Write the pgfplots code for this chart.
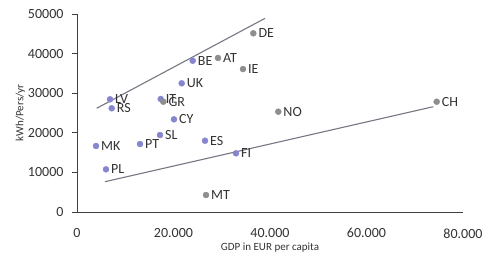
\documentclass[border=0pt]{standalone}
\usepackage{fontspec}
\setmainfont{Carlito}
\usepackage{pgfplots}
\pgfplotsset{compat=1.18}
\definecolor{ptblue}{HTML}{8585D0}
\definecolor{ptgray}{HTML}{8E8E8E}
\definecolor{trend}{HTML}{767684}
\definecolor{axgray}{HTML}{404040}
\begin{document}
\begin{tikzpicture}
\begin{axis}[
  scale only axis,
  width=386pt, height=198pt,
  xmin=0, xmax=80000, ymin=0, ymax=50000,
  axis x line*=bottom, axis y line*=left,
  axis line style={-, axgray, line width=0.9pt},
  xtick={0,20000,40000,60000,80000},
  ytick={0,10000,20000,30000,40000,50000},
  scaled ticks=false,
  xticklabel style={/pgf/number format/.cd, 1000 sep={.}, fixed},
  yticklabel style={/pgf/number format/.cd, 1000 sep={}, fixed},
  /pgf/number format/assume math mode=true,
  ticklabel style={font=\fontsize{14}{16}\selectfont, text=black!80},
  x tick style={draw=none},
  y tick style={axgray, line width=0.9pt},
  tick align=outside, major tick length=5pt,
  xtick pos=bottom, ytick pos=left,
  xticklabel shift=8pt,
  yticklabel shift=5pt,
  xlabel={GDP in EUR per capita},
  ylabel={kWh/Pers/yr},
  label style={font=\fontsize{11}{13}\selectfont, text=black!80},
  xlabel style={yshift=2pt},
  ylabel style={yshift=-4pt},
  clip=false,
  nodes near coords,
  point meta=explicit symbolic,
  nodes near coords style={anchor=west, font=\fontsize{14}{16}\selectfont, text=black!80, inner sep=1pt, xshift=4pt},
]
\addplot[trend, line width=1.1pt, no marks, nodes near coords={}] coordinates {(4080,26190) (38960,48900)};
\addplot[trend, line width=1.1pt, no marks, nodes near coords={}] coordinates {(5800,7650) (73840,26590)};
\addplot[only marks, mark=*, mark size=3pt, ptblue] table[meta=label] {
x y label
23980 38200 BE
21700 32500 UK
6840 28460 LV
7190 26190 RS
17350 28540 IT
20100 23400 CY
17200 19440 SL
26530 18000 ES
13060 17170 PT
3940 16670 MK
6010 10780 PL
32950 14820 FI
};
\addplot[only marks, mark=*, mark size=3pt, ptgray] table[meta=label] {
x y label
36540 45130 DE
29220 38900 AT
34400 36100 IE
17890 27850 GR
26740 4290 MT
41720 25330 NO
74550 27850 CH
};
\end{axis}
\pgfresetboundingbox
\path (current axis.origin) ++(-77pt,-57pt) rectangle ++(483pt,269pt);
\end{tikzpicture}
\end{document}
